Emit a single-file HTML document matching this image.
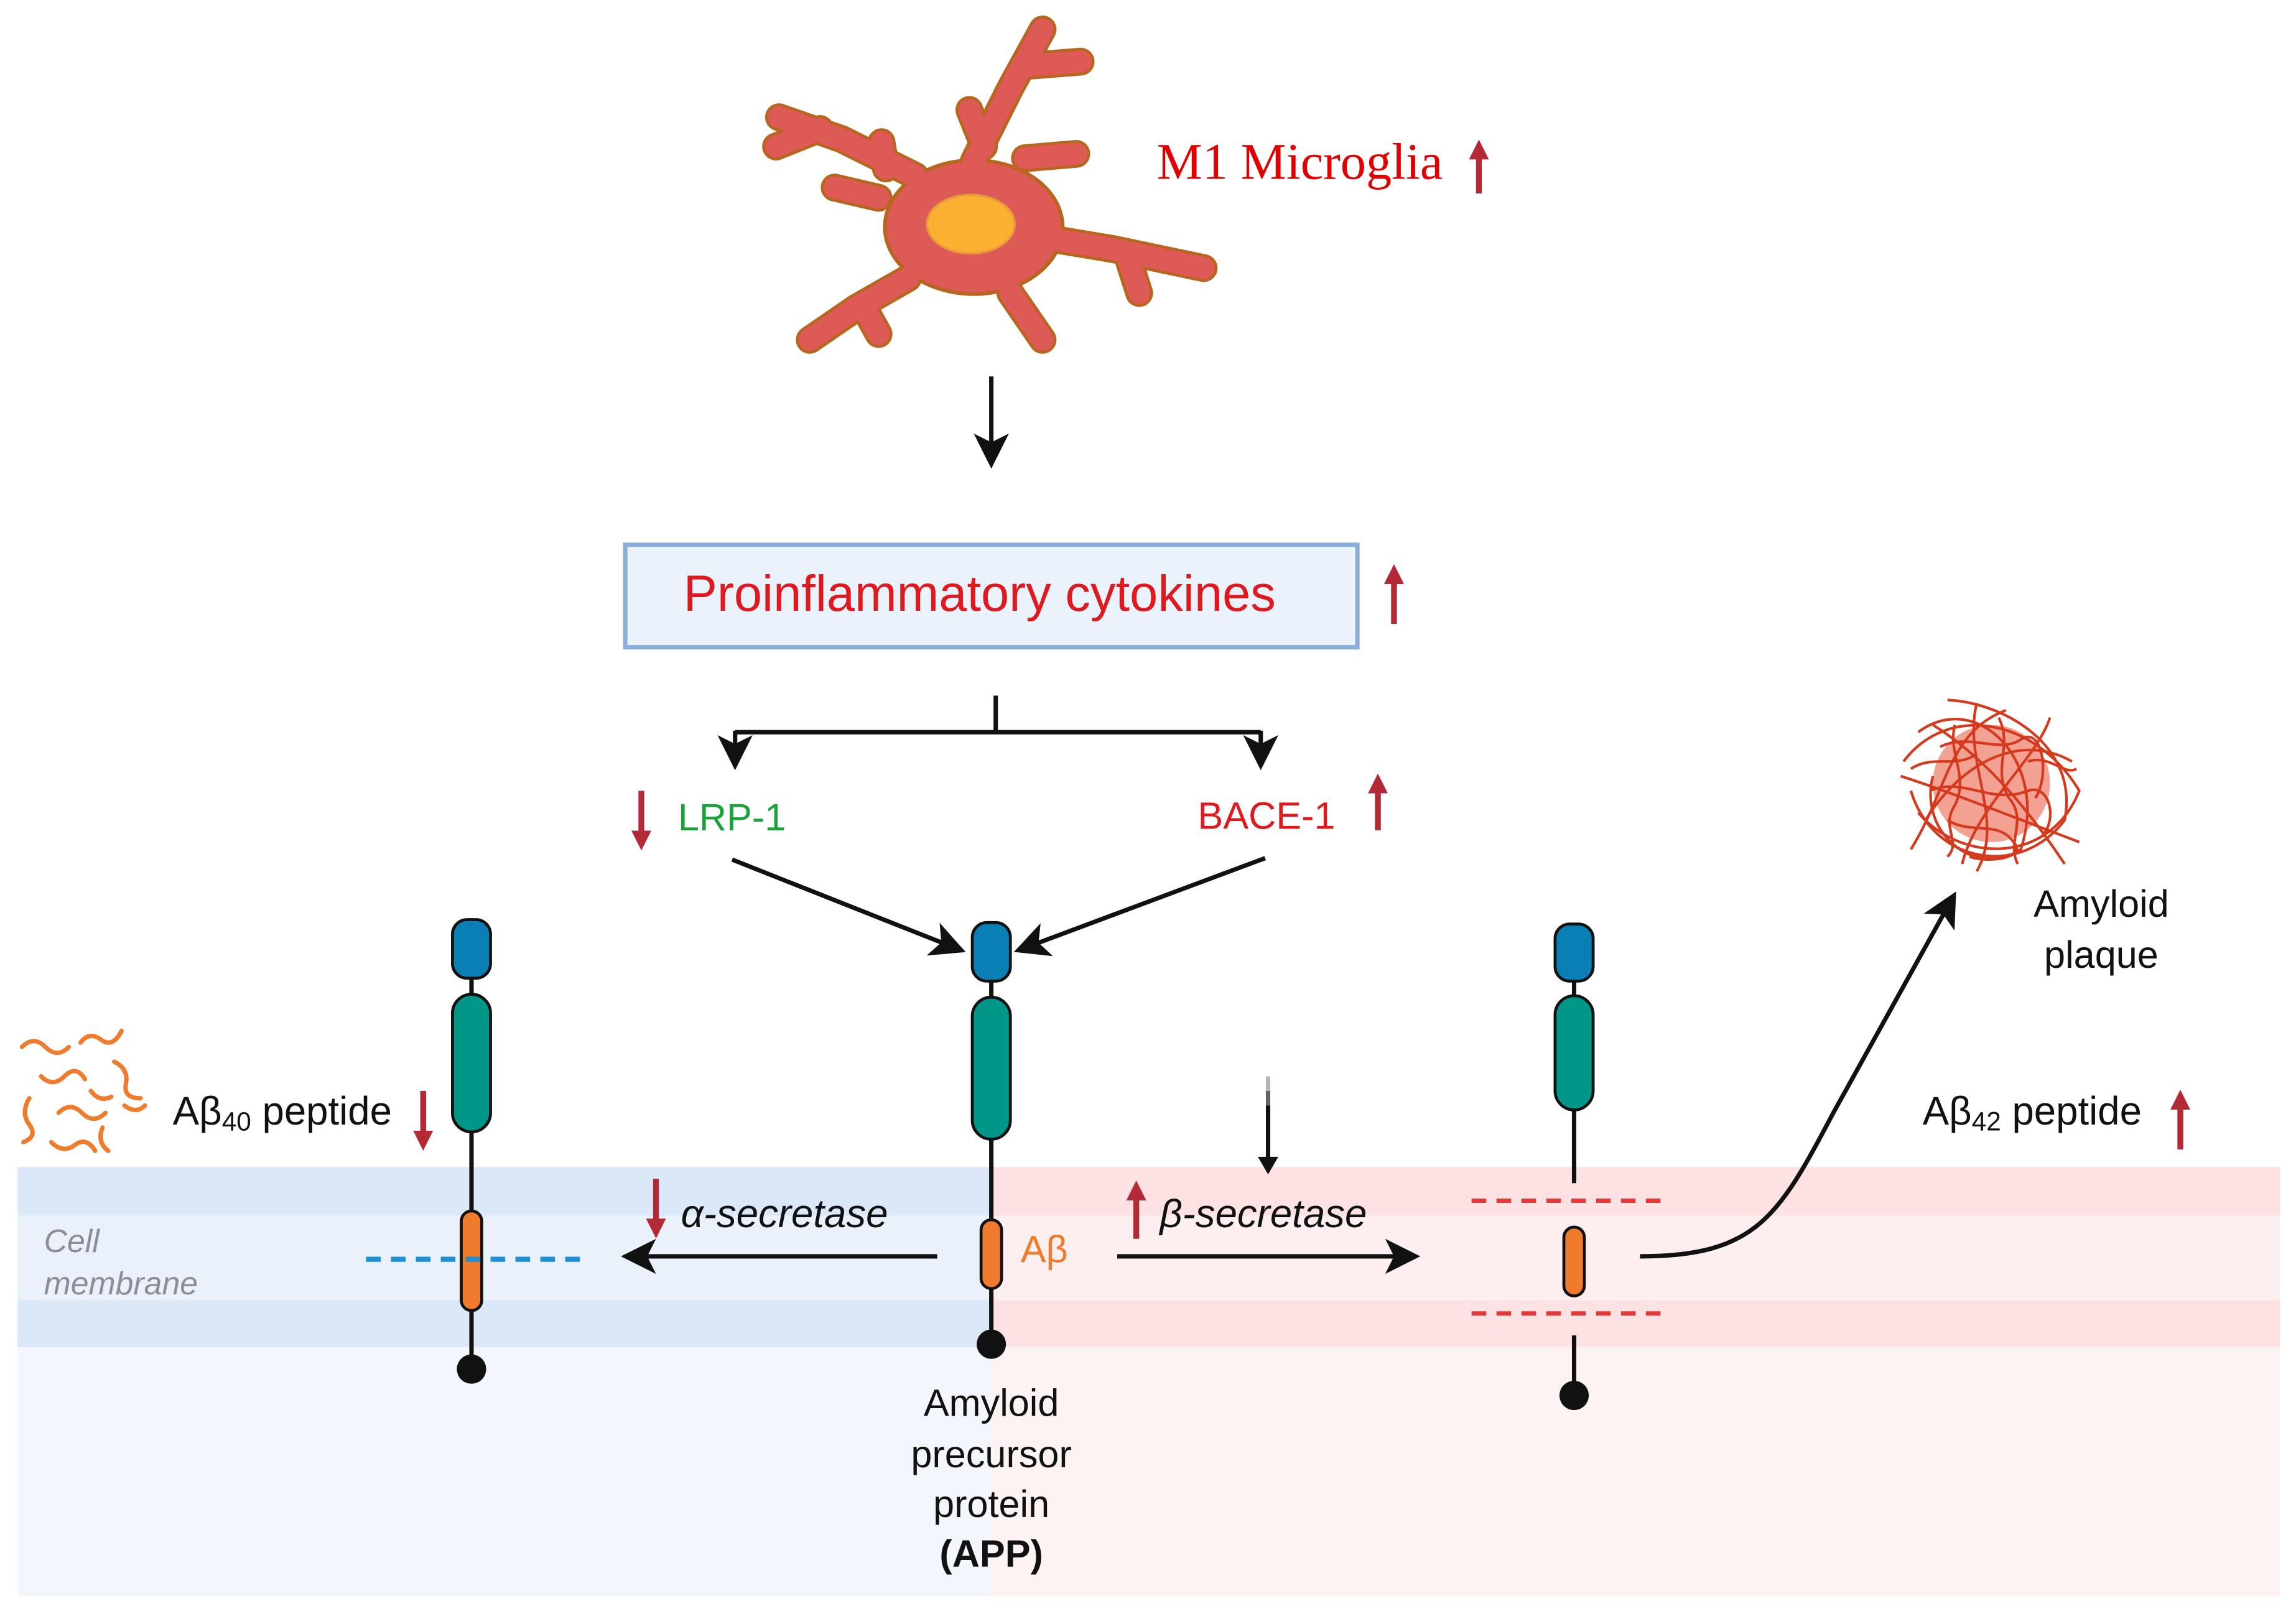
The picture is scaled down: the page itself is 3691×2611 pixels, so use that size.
<!DOCTYPE html>
<html><head><meta charset="utf-8"><style>html,body{margin:0;padding:0;background:#fff}svg{display:block}</style></head><body>
<svg width="3691" height="2611" viewBox="0 0 1568 1109" xmlns="http://www.w3.org/2000/svg" font-family="'Liberation Sans', sans-serif">
<defs>
<marker id="ah" markerWidth="8" markerHeight="8" refX="6" refY="4" orient="auto" markerUnits="strokeWidth"><path d="M0,0 L8,4 L0,8 L2,4 z" fill="#111"/></marker>
<marker id="rh" viewBox="0 0 6 6" markerWidth="3.4" markerHeight="3.4" refX="3" refY="3" orient="auto" markerUnits="strokeWidth"><path d="M0,0 L6,3 L0,6 z" fill="#b22a35"/></marker>
</defs>
<!-- backgrounds -->
<rect x="12" y="797" width="665" height="293" fill="#F3F7FD"/>
<rect x="12" y="797" width="665" height="33" fill="#DBE8F7"/>
<rect x="12" y="830" width="665" height="58" fill="#EAF1FA"/>
<rect x="12" y="888" width="665" height="32" fill="#DBE8F7"/>
<rect x="677" y="797" width="880" height="293" fill="#FEF3F3"/>
<rect x="677" y="797" width="880" height="33" fill="#FDE2E3"/>
<rect x="677" y="830" width="880" height="58" fill="#FDEFEF"/>
<rect x="677" y="888" width="880" height="32" fill="#FDE2E3"/>

<!-- microglia -->
<g stroke-linecap="round" stroke-linejoin="round" fill="none">
<path stroke="#B8651E" stroke-width="19" d="M625,120 L575,95 L532,80 M560,88 L530,100 M605,115 L602,97 M665,110 L690,60 L712,20 M700,45 L738,42 M672,100 L662,75 M700,108 L735,105 M700,160 L760,170 L822,183 M770,175 L778,200 M690,200 L712,232 M620,190 L585,210 L553,232 M590,210 L600,228 M600,135 L570,128"/>
<ellipse cx="665" cy="155" rx="62" ry="47" fill="#B8651E" stroke="none"/>
<path stroke="#DD5A57" stroke-width="15" d="M625,120 L575,95 L532,80 M560,88 L530,100 M605,115 L602,97 M665,110 L690,60 L712,20 M700,45 L738,42 M672,100 L662,75 M700,108 L735,105 M700,160 L760,170 L822,183 M770,175 L778,200 M690,200 L712,232 M620,190 L585,210 L553,232 M590,210 L600,228 M600,135 L570,128"/>
<ellipse cx="665" cy="155" rx="59.5" ry="44.5" fill="#DD5A57" stroke="none"/>
</g>
<ellipse cx="663" cy="153" rx="30" ry="20" fill="#FBB031" stroke="#E89A3A" stroke-width="1.5"/>
<text x="790" y="122" font-family="'Liberation Serif', serif" font-size="35" fill="#E00000">M1 Microglia</text>
<line x1="1010" y1="132" x2="1010" y2="102" stroke="#b22a35" stroke-width="4" marker-end="url(#rh)"/>

<line x1="677" y1="257" x2="677" y2="314" stroke="#111" stroke-width="3" marker-end="url(#ah)"/>

<rect x="427" y="372" width="500" height="70" fill="#EAF3FB" stroke="#8BAED8" stroke-width="3"/>
<text x="669" y="417" font-size="34.5" fill="#E0191E" text-anchor="middle">Proinflammatory cytokines</text>
<line x1="952" y1="426" x2="952" y2="392" stroke="#b22a35" stroke-width="4" marker-end="url(#rh)"/>

<path d="M680,475 V500 M502,500 H861" stroke="#111" stroke-width="3" fill="none"/>
<line x1="502" y1="499" x2="502" y2="520" stroke="#111" stroke-width="3" marker-end="url(#ah)"/>
<line x1="861" y1="499" x2="861" y2="520" stroke="#111" stroke-width="3" marker-end="url(#ah)"/>

<line x1="438" y1="540" x2="438" y2="574" stroke="#b22a35" stroke-width="4" marker-end="url(#rh)"/>
<text x="463" y="567" font-size="26" fill="#1AA338">LRP-1</text>
<text x="818" y="566" font-size="26" fill="#E0191E">BACE-1</text>
<line x1="941" y1="567" x2="941" y2="535" stroke="#b22a35" stroke-width="4" marker-end="url(#rh)"/>

<line x1="500" y1="587" x2="654" y2="648" stroke="#111" stroke-width="3" marker-end="url(#ah)"/>
<line x1="864" y1="586" x2="698" y2="648" stroke="#111" stroke-width="3" marker-end="url(#ah)"/>

<!-- APP center -->
<line x1="677" y1="660" x2="677" y2="918" stroke="#111" stroke-width="3"/>
<rect x="664" y="630" width="26" height="40" rx="10" fill="#0A7FB5" stroke="#111" stroke-width="2"/>
<rect x="664" y="681" width="26" height="97" rx="13" fill="#009688" stroke="#111" stroke-width="2"/>
<rect x="670" y="833" width="14" height="47" rx="7" fill="#F07B2C" stroke="#111" stroke-width="2"/>
<circle cx="677" cy="918" r="10" fill="#111"/>

<!-- APP left -->
<line x1="322" y1="660" x2="322" y2="935" stroke="#111" stroke-width="3"/>
<rect x="309" y="628" width="26" height="40" rx="10" fill="#0A7FB5" stroke="#111" stroke-width="2"/>
<rect x="309" y="679" width="26" height="94" rx="13" fill="#009688" stroke="#111" stroke-width="2"/>
<rect x="315" y="827" width="14" height="68" rx="7" fill="#F07B2C" stroke="#111" stroke-width="2"/>
<circle cx="322" cy="935" r="10" fill="#111"/>
<line x1="250" y1="860" x2="398" y2="860" stroke="#1E8FD0" stroke-width="3.5" stroke-dasharray="10,7"/>

<!-- APP right -->
<line x1="1075" y1="660" x2="1075" y2="808" stroke="#111" stroke-width="3"/>
<line x1="1075" y1="912" x2="1075" y2="953" stroke="#111" stroke-width="3"/>
<rect x="1062" y="631" width="26" height="39" rx="10" fill="#0A7FB5" stroke="#111" stroke-width="2"/>
<rect x="1062" y="680" width="26" height="78" rx="13" fill="#009688" stroke="#111" stroke-width="2"/>
<rect x="1068" y="838" width="14" height="47" rx="7" fill="#F07B2C" stroke="#111" stroke-width="2"/>
<circle cx="1075" cy="953" r="10" fill="#111"/>
<line x1="1005" y1="820" x2="1140" y2="820" stroke="#E53935" stroke-width="3" stroke-dasharray="10,7"/>
<line x1="1005" y1="897" x2="1140" y2="897" stroke="#E53935" stroke-width="3" stroke-dasharray="10,7"/>

<!-- squiggles -->
<g stroke="#F07B2C" stroke-width="3" fill="none" stroke-linecap="round">
<path d="M15,715 q8,-8 16,0 t16,0"/><path d="M55,712 q6,-8 14,-2 t14,-6"/><path d="M28,735 q8,8 16,0 t14,2"/>
<path d="M78,725 q10,5 8,15 t10,10"/><path d="M20,750 q-6,10 0,18 t-4,12"/><path d="M40,760 q8,-8 16,0 t16,0"/>
<path d="M62,745 q6,8 14,4"/><path d="M85,755 q8,6 14,0"/><path d="M35,780 q8,8 16,2 t14,4"/><path d="M70,770 q-4,10 4,16"/>
</g>

<!-- plaque -->
<circle cx="1360" cy="535" r="40" fill="#E8533A" opacity="0.55"/>
<g stroke="#D63A1E" stroke-width="1.8" fill="none">
<path d="M1300,520 C1330,480 1390,490 1420,540 C1400,590 1340,590 1310,555"/>
<path d="M1310,500 C1350,470 1400,520 1380,580 C1350,600 1310,570 1320,530"/>
<path d="M1330,478 C1370,480 1420,510 1410,560 C1380,600 1320,590 1305,540"/>
<path d="M1315,560 C1340,520 1380,500 1415,520"/><path d="M1340,590 C1350,550 1390,520 1400,490"/>
<path d="M1298,530 C1330,540 1380,560 1420,575"/><path d="M1350,480 C1340,520 1370,560 1350,595"/>
<path d="M1320,495 C1360,520 1390,560 1410,590"/><path d="M1305,580 C1330,540 1330,500 1370,485"/>
<path d="M1325,510 C1345,500 1365,515 1380,505 C1395,495 1400,530 1390,545"/>
<path d="M1318,540 C1340,530 1360,550 1385,540 C1400,535 1405,560 1395,570"/>
<path d="M1330,560 C1345,570 1365,560 1375,575 C1385,585 1360,590 1345,585"/>
<path d="M1335,495 C1330,515 1345,530 1335,550 C1325,565 1340,575 1330,585"/>
<path d="M1365,490 C1375,510 1360,525 1372,545 C1385,560 1370,575 1378,590"/>
<path d="M1305,525 C1320,515 1335,525 1350,515 M1385,520 C1400,515 1410,530 1418,525"/>
</g>

<!-- texts -->
<text x="118" y="768" font-size="27" fill="#111">Aβ<tspan font-size="18" dy="4">40</tspan><tspan dy="-4"> peptide</tspan></text>
<line x1="289" y1="745" x2="289" y2="779" stroke="#b22a35" stroke-width="4" marker-end="url(#rh)"/>
<text x="1313" y="768" font-size="27" fill="#111">Aβ<tspan font-size="18" dy="4">42</tspan><tspan dy="-4"> peptide</tspan></text>
<line x1="1489" y1="785" x2="1489" y2="751" stroke="#b22a35" stroke-width="4" marker-end="url(#rh)"/>

<line x1="448" y1="805" x2="448" y2="839" stroke="#b22a35" stroke-width="4" marker-end="url(#rh)"/>
<text x="465" y="838" font-size="27" font-style="italic" fill="#111">α-secretase</text>
<line x1="776" y1="846" x2="776" y2="813" stroke="#b22a35" stroke-width="4" marker-end="url(#rh)"/>
<text x="792" y="838" font-size="27" font-style="italic" fill="#111">β-secretase</text>
<line x1="640" y1="858" x2="430" y2="858" stroke="#111" stroke-width="3" marker-end="url(#ah)"/>
<line x1="763" y1="858" x2="964" y2="858" stroke="#111" stroke-width="3" marker-end="url(#ah)"/>
<line x1="866" y1="735" x2="866" y2="745" stroke="#111" stroke-width="3" opacity="0.3"/>
<line x1="866" y1="745" x2="866" y2="755" stroke="#111" stroke-width="3" opacity="0.65"/>
<line x1="866" y1="755" x2="866" y2="792" stroke="#111" stroke-width="3"/>
<path d="M859,790 L866,802 L873,790 z" fill="#111"/>
<text x="697" y="862" font-size="26" fill="#F07B2C">Aβ</text>
<text x="30" y="855" font-size="22" font-style="italic" fill="#8A8F96">Cell</text>
<text x="30" y="884" font-size="22" font-style="italic" fill="#8A8F96">membrane</text>

<g font-size="26" fill="#111" text-anchor="middle">
<text x="677" y="967">Amyloid</text><text x="677" y="1002">precursor</text><text x="677" y="1036">protein</text>
<text x="677" y="1070" font-weight="bold">(APP)</text>
<text x="1435" y="626">Amyloid</text><text x="1435" y="661">plaque</text>
</g>
<path d="M1120,858 C1200,858 1215,830 1252,760 L1333,614" stroke="#111" stroke-width="3" fill="none" marker-end="url(#ah)"/>
</svg>
</body></html>
